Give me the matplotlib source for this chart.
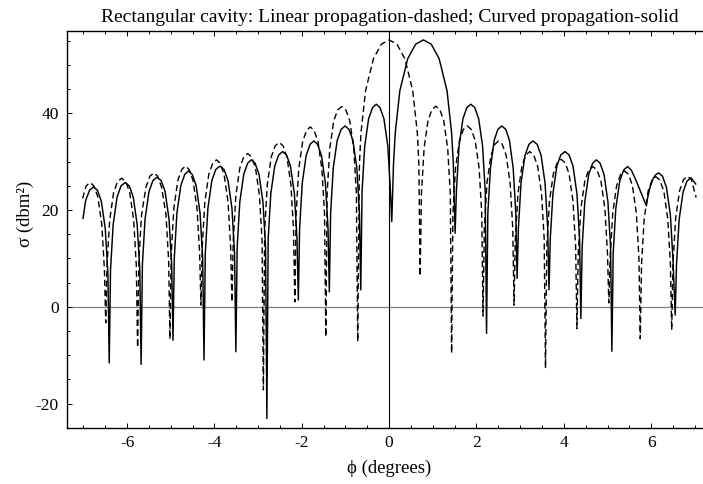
import matplotlib
matplotlib.use("Agg")
import matplotlib.pyplot as plt
from matplotlib.ticker import MultipleLocator

plt.rcParams['font.family'] = ['Liberation Serif', 'DejaVu Serif']

# Linear propagation (dashed)
lin_x = [-7.02, -6.94, -6.85, -6.76, -6.67, -6.58, -6.52, -6.49,
         -6.46, -6.40, -6.31, -6.22, -6.125, -6.03, -5.94, -5.85, -5.79, -5.76,
         -5.73, -5.67, -5.57, -5.48, -5.39, -5.30, -5.21, -5.11, -5.05, -5.02,
         -4.99, -4.93, -4.84, -4.75, -4.665, -4.58, -4.49, -4.40, -4.34, -4.31,
         -4.28, -4.22, -4.13, -4.04, -3.955, -3.87, -3.78, -3.69, -3.63, -3.60,
         -3.57, -3.51, -3.42, -3.33, -3.24, -3.15, -3.06, -2.97, -2.91, -2.88,
         -2.85, -2.79, -2.70, -2.61, -2.52, -2.43, -2.34, -2.25, -2.19, -2.16,
         -2.13, -2.07, -1.98, -1.89, -1.805, -1.72, -1.63, -1.54, -1.48, -1.45,
         -1.42, -1.36, -1.27, -1.18, -1.085, -0.99, -0.90, -0.81, -0.75, -0.72,
         -0.68, -0.645, -0.54, -0.36, -0.18, 0.0, 0.18, 0.36, 0.54, 0.645, 0.68, 0.71,
         0.74, 0.80, 0.89, 0.98, 1.07, 1.16, 1.25, 1.34, 1.40, 1.43,
         1.46, 1.52, 1.61, 1.70, 1.79, 1.88, 1.97, 2.06, 2.12, 2.15,
         2.18, 2.24, 2.33, 2.42, 2.505, 2.59, 2.68, 2.77, 2.83, 2.86,
         2.89, 2.95, 3.04, 3.13, 3.22, 3.31, 3.40, 3.49, 3.55, 3.58,
         3.61, 3.67, 3.76, 3.85, 3.94, 4.03, 4.12, 4.21, 4.27, 4.30,
         4.33, 4.39, 4.48, 4.57, 4.665, 4.76, 4.85, 4.94, 5.00, 5.03,
         5.06, 5.12, 5.21, 5.30, 5.39, 5.48, 5.57, 5.66, 5.72, 5.75,
         5.78, 5.84, 5.93, 6.02, 6.11, 6.20, 6.29, 6.38, 6.44, 6.47,
         6.50, 6.56, 6.65, 6.74, 6.83, 6.92, 7.03]
lin_y = [22.4, 25.0, 25.7, 25.0, 22.7, 17.0, 7.7, -3.3,
         8.6, 17.9, 23.6, 25.9, 26.6, 25.9, 23.6, 17.9, 8.6, -8.4,
         9.7, 19.0, 24.7, 27.0, 27.7, 27.0, 24.7, 19.0, 9.7, -6.7,
         11.1, 20.4, 26.1, 28.4, 29.1, 28.4, 26.1, 20.4, 11.1, 0.35,
         12.4, 21.7, 27.4, 29.7, 30.4, 29.7, 27.4, 21.7, 12.4, 1.0,
         13.7, 23.0, 28.7, 31.0, 31.7, 31.0, 28.7, 23.0, 13.7, -17.2,
         16.0, 25.3, 31.0, 33.3, 34.0, 33.3, 31.0, 25.3, 16.0, 1.0,
         19.2, 28.5, 34.2, 36.5, 37.2, 36.5, 34.2, 28.5, 19.2, -6.2,
         23.4, 32.7, 38.4, 40.7, 41.4, 40.7, 38.4, 32.7, 23.4, -7.2,
         29.6, 36.0, 44.7, 51.3, 54.3, 55.2, 54.3, 51.3, 44.7, 36.0, 29.6, 6.35,
         23.5, 32.8, 38.5, 40.8, 41.5, 40.8, 38.5, 32.8, 23.5, -9.6,
         19.4, 28.7, 34.4, 36.7, 37.4, 36.7, 34.4, 28.7, 19.4, -1.9,
         16.3, 25.6, 31.3, 33.6, 34.3, 33.6, 31.3, 25.6, 16.3, 0.35,
         14.1, 23.4, 29.1, 31.4, 32.1, 31.4, 29.1, 23.4, 14.1, -12.7,
         12.5, 21.8, 27.5, 29.8, 30.5, 29.8, 27.5, 21.8, 12.5, -4.5,
         11.0, 20.3, 26.0, 28.3, 29.0, 28.3, 26.0, 20.3, 11.0, 0.8,
         10.1, 19.4, 25.1, 27.4, 28.1, 27.4, 25.1, 19.4, 10.1, -6.6,
         8.9, 18.2, 23.9, 26.2, 26.9, 26.2, 23.9, 18.2, 8.9, -4.8,
         9.0, 18.3, 24.0, 26.3, 27.0, 26.3, 22.6]

# Curved propagation (solid)
curv_x = [-7.01, -6.95, -6.86, -6.77, -6.68, -6.59, -6.50, -6.44, -6.41,
          -6.38, -6.32, -6.23, -6.14, -6.045, -5.95, -5.86, -5.77, -5.71, -5.68,
          -5.65, -5.59, -5.50, -5.41, -5.315, -5.22, -5.13, -5.04, -4.98, -4.95,
          -4.92, -4.86, -4.77, -4.68, -4.595, -4.51, -4.42, -4.33, -4.27, -4.24,
          -4.21, -4.15, -4.06, -3.97, -3.875, -3.78, -3.69, -3.60, -3.54, -3.51,
          -3.48, -3.42, -3.33, -3.24, -3.155, -3.07, -2.98, -2.89, -2.83, -2.80,
          -2.77, -2.71, -2.62, -2.53, -2.44, -2.35, -2.26, -2.17, -2.11, -2.08,
          -2.05, -1.99, -1.90, -1.81, -1.725, -1.64, -1.55, -1.46, -1.40, -1.37,
          -1.34, -1.28, -1.19, -1.10, -1.01, -0.92, -0.83, -0.74, -0.68, -0.65,
          -0.62, -0.56, -0.47, -0.38, -0.295, -0.21, -0.12, -0.03, 0.03, 0.06,
          0.10, 0.14, 0.245, 0.425, 0.605, 0.785, 0.965, 1.145, 1.325, 1.43, 1.47, 1.51,
          1.54, 1.60, 1.69, 1.78, 1.87, 1.96, 2.05, 2.14, 2.20, 2.23,
          2.26, 2.32, 2.405, 2.49, 2.58, 2.67, 2.755, 2.84, 2.90, 2.93,
          2.96, 3.02, 3.11, 3.20, 3.295, 3.39, 3.48, 3.57, 3.63, 3.66,
          3.69, 3.75, 3.84, 3.93, 4.025, 4.12, 4.21, 4.30, 4.36, 4.39,
          4.42, 4.48, 4.57, 4.66, 4.745, 4.83, 4.92, 5.01, 5.07, 5.10,
          5.13, 5.19, 5.28, 5.37, 5.46, 5.55, 5.65, 5.75, 5.83, 5.89,
          5.92, 5.97, 6.04, 6.10, 6.17, 6.26, 6.35, 6.44, 6.50, 6.55,
          6.58, 6.64, 6.73, 6.82, 6.91, 7.02]
curv_y = [18.3, 22.0, 24.1, 24.8, 24.1, 21.8, 16.1, 6.8, -11.6,
          7.7, 17.0, 22.7, 25.0, 25.7, 25.0, 22.7, 17.0, 7.7, -11.9,
          8.8, 18.1, 23.8, 26.1, 26.8, 26.1, 23.8, 18.1, 8.8, -6.9,
          10.1, 19.4, 25.1, 27.4, 28.1, 27.4, 25.1, 19.4, 10.1, -11.0,
          11.1, 20.4, 26.1, 28.4, 29.1, 28.4, 26.1, 20.4, 11.1, -9.3,
          12.4, 21.7, 27.4, 29.7, 30.4, 29.7, 27.4, 21.7, 12.4, -23.1,
          14.1, 23.4, 29.1, 31.4, 32.1, 31.4, 29.1, 23.4, 14.1, 1.4,
          16.3, 25.6, 31.3, 33.6, 34.3, 33.6, 31.3, 25.6, 16.3, 3.1,
          19.4, 28.7, 34.4, 36.7, 37.4, 36.7, 34.4, 28.7, 19.4, 3.5,
          23.9, 33.2, 38.9, 41.2, 41.9, 41.2, 38.9, 33.2, 23.9, 17.6,
          29.6, 36.0, 44.7, 51.3, 54.3, 55.2, 54.3, 51.3, 44.7, 36.0, 29.6, 15.2,
          23.9, 33.2, 38.9, 41.2, 41.9, 41.2, 38.9, 33.2, 23.9, -5.5,
          19.4, 28.7, 34.4, 36.7, 37.4, 36.7, 34.4, 28.7, 19.4, 5.9,
          16.3, 25.6, 31.3, 33.6, 34.3, 33.6, 31.3, 25.6, 16.3, 3.5,
          14.1, 23.4, 29.1, 31.4, 32.1, 31.4, 29.1, 23.4, 14.1, -2.4,
          12.4, 21.7, 27.4, 29.7, 30.4, 29.7, 27.4, 21.7, 12.4, -9.2,
          11.0, 20.3, 26.0, 28.3, 29.0, 28.2, 26.2, 24.0, 22.2, 20.9,
          22.6, 24.6, 26.4, 27.3, 27.7, 27.0, 24.7, 19.0, 9.7, -1.7,
          8.7, 18.0, 23.7, 26.0, 26.7, 25.4]

x_ticks = [-6, -4, -2, 0, 2, 4, 6]
x_tick_labels = ['-6', '-4', '-2', '0', '2', '4', '6']
y_ticks = [-20, 0, 20, 40]
y_tick_labels = ['-20', '0', '20', '40']

title = "Rectangular cavity: Linear propagation-dashed; Curved propagation-solid"
x_label = "\u03d5 (degrees)"
y_label = "\u03c3 (dbm\u00b2)"

W, H = 703, 484
fig = plt.figure(figsize=(W / 100, H / 100), dpi=100)
left_px, right_px, top_px, bottom_px = 67.3, 711.0, 30.7, 427.7
ax = fig.add_axes([left_px / W, (H - bottom_px) / H,
                   (right_px - left_px) / W, (bottom_px - top_px) / H])

ax.set_xlim(-7.37, 7.37)
ax.set_ylim(-25.0, 57.1)

ax.axhline(0, color='#808080', lw=0.9, zorder=1)
ax.axvline(0, color='black', lw=0.8, zorder=1)

ax.plot(lin_x, lin_y, color='black', lw=1.0, linestyle=(0, (4.5, 2.6)), zorder=2)
ax.plot(curv_x, curv_y, color='black', lw=1.05, zorder=3)

ax.set_xticks(x_ticks)
ax.set_xticklabels(x_tick_labels)
ax.set_yticks(y_ticks)
ax.set_yticklabels(y_tick_labels)
ax.xaxis.set_minor_locator(MultipleLocator(0.5))
ax.yaxis.set_minor_locator(MultipleLocator(5))

ax.tick_params(which='both', direction='in', top=True, right=False,
               width=0.7, colors='black', labelsize=12.5)
ax.tick_params(which='major', length=3.4)
ax.tick_params(which='minor', length=1.9)
ax.tick_params(axis='x', which='major', pad=5)
ax.tick_params(axis='y', which='major', pad=6)

for s in ax.spines.values():
    s.set_linewidth(1.0)
ax.spines['right'].set_visible(False)

fig.text(389.5 / W, 1 - 18 / H, title, ha='center', va='center', fontsize=14)
fig.text(389.5 / W, 1 - 468 / H, x_label, ha='center', va='center', fontsize=13.5)
fig.text(25 / W, 1 - 214 / H, y_label, ha='center', va='center', fontsize=13.5,
         rotation=90)

fig.savefig('out.png', dpi=100)
